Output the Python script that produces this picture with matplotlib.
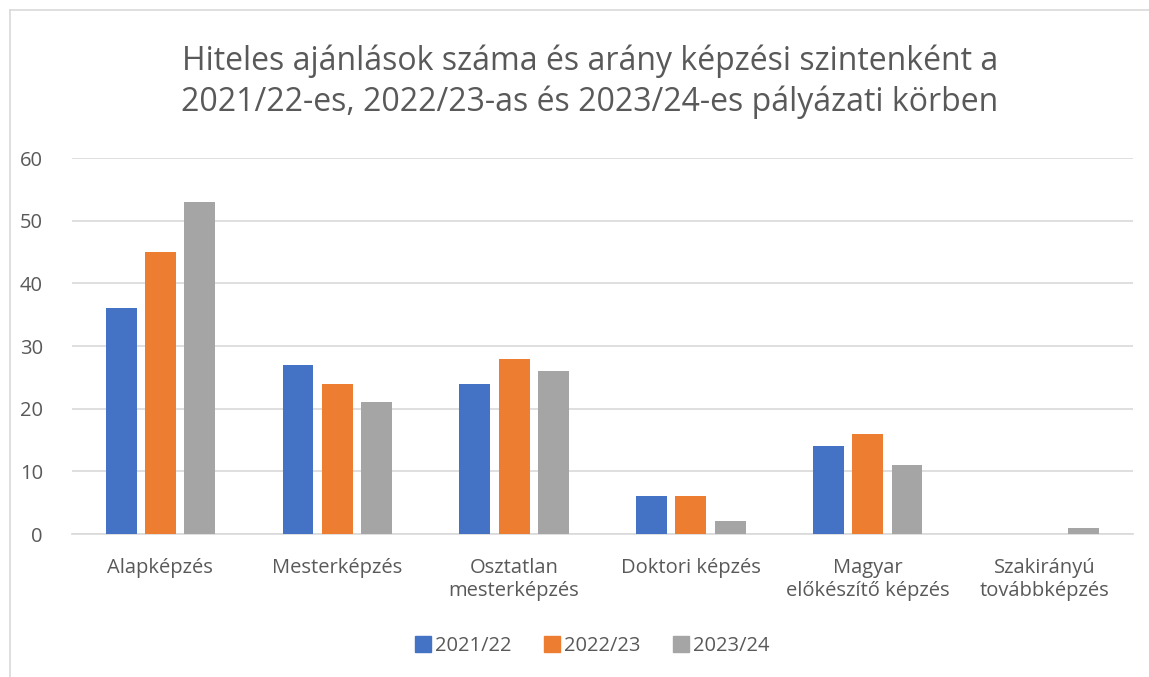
import matplotlib
matplotlib.use("Agg")
import matplotlib.pyplot as plt
import numpy as np
from matplotlib.lines import Line2D

categories = ["Alapképzés", "Mesterképzés", "Osztatlan\nmesterképzés", "Doktori képzés",
              "Magyar\nelőkészítő képzés", "Szakirányú\ntovábbképzés"]
series_names = ["2021/22", "2022/23", "2023/24"]
v2122 = [36, 27, 24, 6, 14, 0]
v2223 = [45, 24, 28, 6, 16, 0]
v2324 = [53, 21, 26, 2, 11, 1]
yticks = [0, 10, 20, 30, 40, 50, 60]
title = "Hiteles ajánlások száma és arány képzési szintenként a\n2021/22-es, 2022/23-as és 2023/24-es pályázati körben"

colors = ["#4472C4", "#ED7D31", "#A5A5A5"]
txt = "#595959"
plt.rcParams['font.family'] = ['Open Sans', 'DejaVu Sans']

fig = plt.figure(figsize=(11.49, 6.77), dpi=100)
ax = fig.add_axes([72/1149, 1-534/677, (1133-72)/1149, (534-158)/677])

x = np.arange(len(categories))
w = 0.175
off = 0.222
for i, (vals, c) in enumerate(zip([v2122, v2223, v2324], colors)):
    ax.bar(x + (i-1)*off, vals, width=w, color=c, zorder=3)

fs = 14.5
ax.set_xlim(-0.5, len(categories)-0.5)
ax.set_ylim(0, 60)
ax.set_yticks(yticks)
ax.yaxis.grid(True, color="#D9D9D9", linewidth=1.2, zorder=0)
for s in ["top", "right", "left"]:
    ax.spines[s].set_visible(False)
ax.spines["bottom"].set_color("#D9D9D9")
ax.spines["bottom"].set_linewidth(1.2)
ax.set_xticks(x)
ax.set_xticklabels(categories, fontsize=fs, color=txt, linespacing=1.2)
ax.tick_params(axis="both", length=0, labelsize=fs, labelcolor=txt)
ax.tick_params(axis="y", pad=21)
ax.tick_params(axis="x", pad=17)

fig.text(590/1149, 1-82/677, title, ha="center", va="center", fontsize=23,
         color=txt, linespacing=1.3)

handles = [Line2D([0], [0], marker="s", linestyle="none", markersize=11,
                  markerfacecolor=c, markeredgecolor=c) for c in colors]
fig.legend(handles, series_names, loc="center", bbox_to_anchor=(592/1149, 1-646/677),
           ncol=3, frameon=False, fontsize=fs, labelcolor=txt, handletextpad=0.2,
           columnspacing=1.6, handlelength=0.8)

fig.add_artist(Line2D([10/1149, 10/1149], [0, 1-10/677], transform=fig.transFigure,
                      color="#D9D9D9", linewidth=1.2))
fig.add_artist(Line2D([10/1149, 1], [1-10/677, 1-10/677], transform=fig.transFigure,
                      color="#D9D9D9", linewidth=1.2))

fig.savefig("out.png", dpi=100)
